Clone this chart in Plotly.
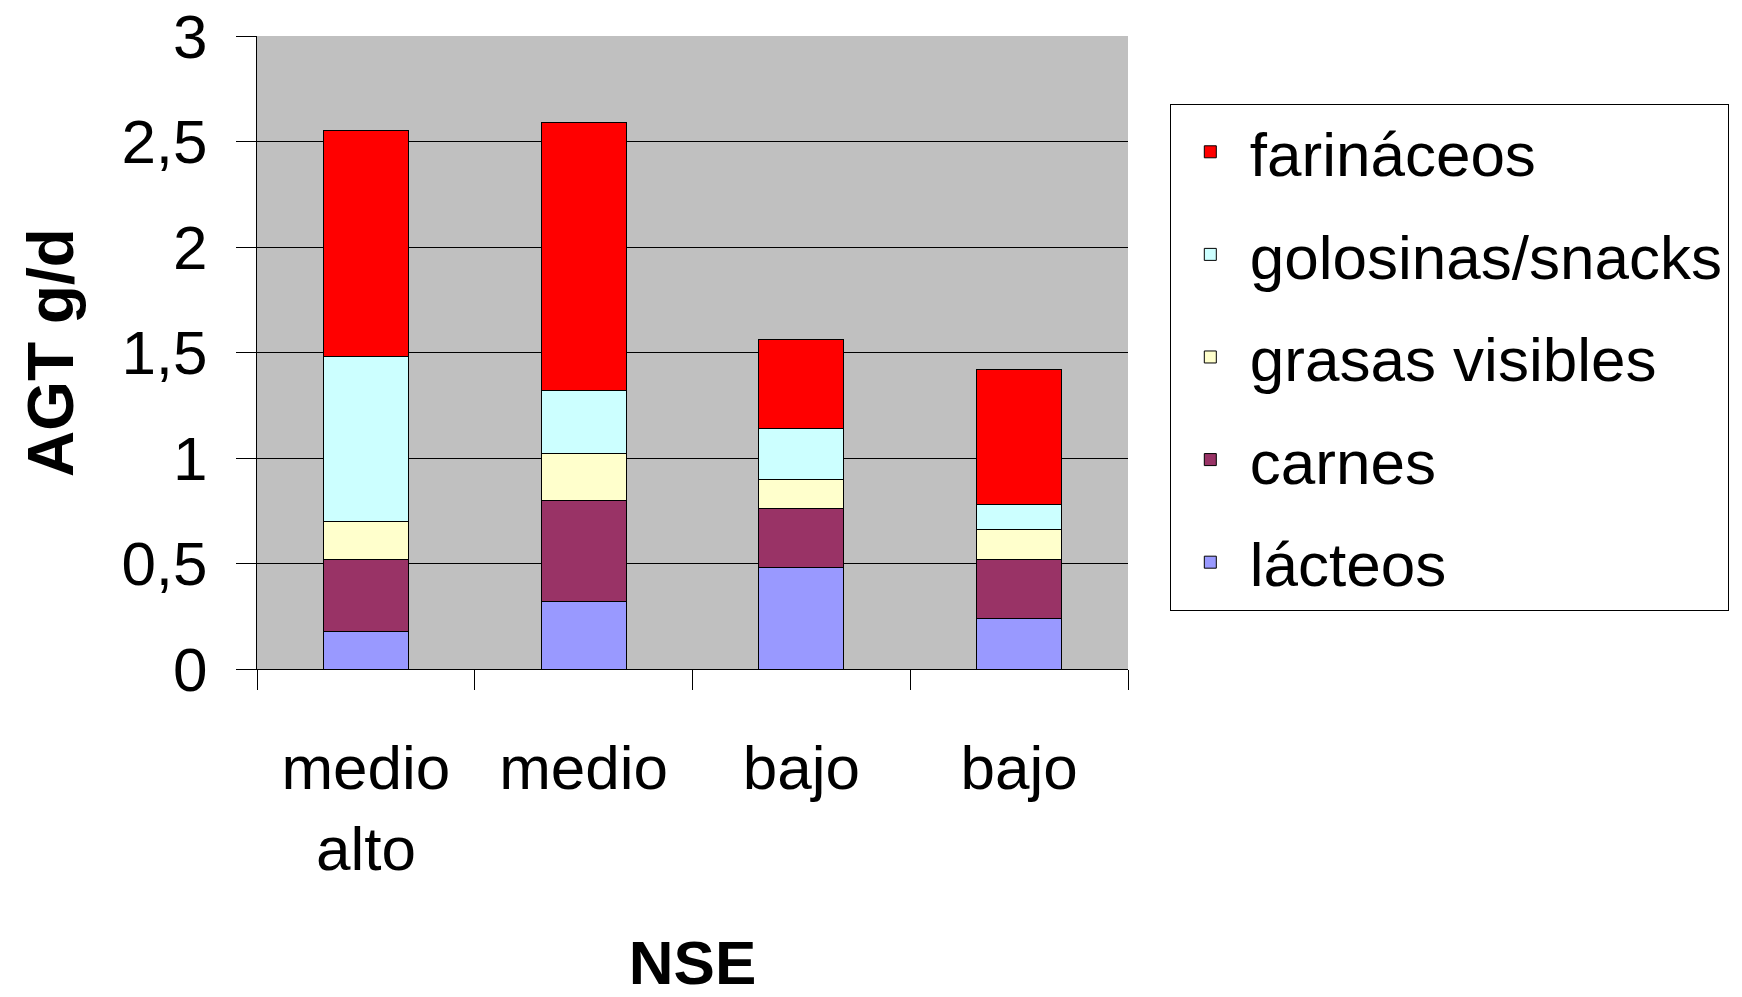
import plotly.graph_objects as go

categories = ["medio<br>alto", "medio", "bajo", "bajo"]
x_pos = [0, 1, 2, 3]

lacteos = [0.18, 0.32, 0.48, 0.24]
carnes = [0.34, 0.48, 0.28, 0.28]
grasas = [0.18, 0.22, 0.14, 0.14]
golosinas = [0.78, 0.30, 0.24, 0.12]
farinaceos = [1.07, 1.27, 0.42, 0.64]

series = [
    ("lácteos", lacteos, "#9999FF"),
    ("carnes", carnes, "#993366"),
    ("grasas visibles", grasas, "#FFFFCC"),
    ("golosinas/snacks", golosinas, "#CCFFFF"),
    ("farináceos", farinaceos, "#FF0000"),
]

y_tickvals = [0, 0.5, 1, 1.5, 2, 2.5, 3]
y_ticktext = ["0", "0,5", "1", "1,5", "2", "2,5", "3"]

FONT = "Liberation Sans, Arial, sans-serif"

fig = go.Figure()
n = len(series)
for i, (name, vals, color) in enumerate(series):
    fig.add_trace(go.Bar(
        x=x_pos, y=vals, name=name, legendgroup=name, legendrank=n - i,
        marker=dict(color=color, line=dict(color="black", width=1)),
        width=0.39,
    ))

fig.update_layout(
    barmode="stack",
    width=1734, height=989,
    margin=dict(l=249, r=614, t=28, b=328),
    paper_bgcolor="white",
    plot_bgcolor="#C0C0C0",
    font=dict(family=FONT, size=62, color="black"),
    legend=dict(
        x=1.048, y=0.8926, xanchor="left", yanchor="top",
        bgcolor="white", bordercolor="black", borderwidth=1,
        traceorder="grouped", tracegroupgap=19, itemwidth=69,
        font=dict(size=62),
    ),
    xaxis=dict(
        range=[-0.5, 3.5], automargin=False,
        tickvals=x_pos, ticktext=categories,
        ticks="", showgrid=False, zeroline=False,
        showline=True, linecolor="black", linewidth=1,
        tickfont=dict(size=62), ticklabelstandoff=45,
        ticklabeloverflow="allow",
        minor=dict(tickvals=[-0.5, 0.5, 1.5, 2.5, 3.5], ticks="outside",
                   ticklen=20, tickcolor="black", tickwidth=1, showgrid=False),
        title=dict(text="<b>NSE</b>", font=dict(size=62), standoff=64),
    ),
    yaxis=dict(
        range=[0, 3], automargin=False,
        tickvals=y_tickvals, ticktext=y_ticktext,
        ticks="outside", ticklen=20, tickcolor="black",
        ticklabelstandoff=16, ticklabeloverflow="allow",
        showgrid=True, gridcolor="black", gridwidth=1,
        zeroline=False, showline=True, linecolor="black", linewidth=1,
        tickfont=dict(size=62),
        title=dict(text="<b>AGT g/d</b>", font=dict(size=64), standoff=26),
    ),
)

fig.write_html("out.html")
